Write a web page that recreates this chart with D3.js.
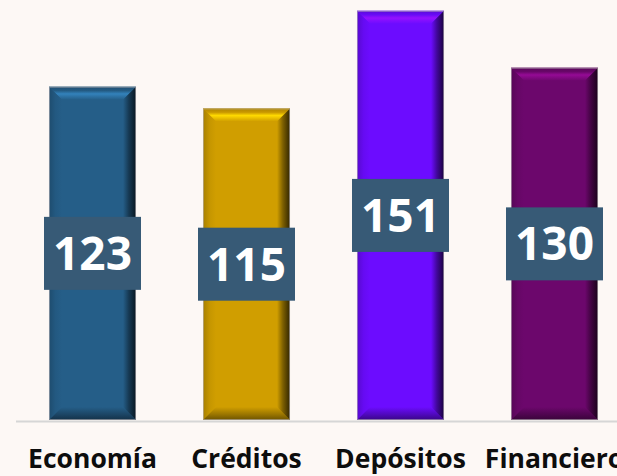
<!DOCTYPE html>
<html>
<head>
<meta charset="utf-8">
<script src="https://cdn.jsdelivr.net/npm/d3@7"></script>
<style>
  html, body { margin: 0; padding: 0; background: #fdf8f5; overflow: hidden; }
  svg { display: block; }
</style>
</head>
<body>
<svg id="chart" width="617" height="476"></svg>
<script>
// Indicator values by sector
const categories = ["Economía", "Créditos", "Depósitos", "Financiero"];
const values = [123, 115, 151, 130];
const barColors = ["#255e88", "#d09e00", "#6c0cff", "#6c076c"];

const width = 617, height = 476;
const baseY = 420;

const svg = d3.select("#chart");

const x = d3.scaleBand()
  .domain(categories)
  .range([15.5, 631.5])
  .paddingInner(0.435)
  .paddingOuter(0.2175);

const y = d3.scaleLinear()
  .domain([0, 155])
  .range([baseY, 0]);

const defs = svg.append("defs");

// Axis with the category names below the baseline
const axis = svg.append("g")
  .attr("transform", `translate(0,${baseY + 1})`)
  .call(d3.axisBottom(x).tickSizeInner(0).tickSizeOuter(0).tickPadding(28));
axis.select(".domain").attr("stroke", "#d6d6d6").attr("stroke-width", 2);
axis.selectAll("text")
  .attr("fill", "#0d0d0d")
  .style("font-family", "'Open Sans', sans-serif")
  .style("font-weight", "700")
  .style("font-size", "26.5px");

// Gradient helper
function grad(id, x1, y1, x2, y2, stops) {
  const g = defs.append("linearGradient").attr("id", id)
    .attr("x1", x1).attr("y1", y1).attr("x2", x2).attr("y2", y2);
  stops.forEach(([o, c]) => g.append("stop").attr("offset", o).attr("stop-color", c));
}

const b = 13; // bevel depth

const bars = svg.append("g").selectAll("g")
  .data(categories.map((c, i) => ({ c, v: values[i], col: barColors[i], i })))
  .join("g");

bars.each(function(d) {
  const g = d3.select(this);
  const base = d3.color(d.col);
  const x0 = x(d.c), x1 = x(d.c) + x.bandwidth();
  const y0 = y(d.v), y1 = y(0);

  grad(`top${d.i}`, 0, 0, 0, 1, [
    [0, base.darker(0.5)], [0.3, base.darker(0.1)], [0.55, base.brighter(0.9)], [1, base]
  ]);
  grad(`right${d.i}`, 0, 0, 1, 0, [
    [0, base], [0.45, base.darker(1.4)], [1, base.darker(4)]
  ]);
  grad(`bottom${d.i}`, 0, 0, 0, 1, [
    [0, base], [0.6, base.darker(0.9)], [1, base.darker(1.8)]
  ]);
  grad(`left${d.i}`, 0, 0, 1, 0, [
    [0, base.darker(0.6)], [0.5, base.darker(0.15)], [1, base]
  ]);

  g.append("rect")
    .attr("x", x0).attr("y", y0)
    .attr("width", x1 - x0).attr("height", y1 - y0)
    .attr("fill", base);

  const poly = (pts, fill) => g.append("polygon")
    .attr("points", pts.map(p => p.join(",")).join(" "))
    .attr("fill", fill);

  poly([[x0, y0], [x1, y0], [x1 - b, y0 + b], [x0 + b, y0 + b]], `url(#top${d.i})`);
  poly([[x0, y0], [x0 + b, y0 + b], [x0 + b, y1 - b], [x0, y1]], `url(#left${d.i})`);
  poly([[x0, y1], [x1, y1], [x1 - b, y1 - b], [x0 + b, y1 - b]], `url(#bottom${d.i})`);
  poly([[x1, y0], [x1, y1], [x1 - b, y1 - b], [x1 - b, y0 + b]], `url(#right${d.i})`);

  g.append("rect")
    .attr("x", x0 + 0.5).attr("y", y0 + 0.5)
    .attr("width", x1 - x0 - 1).attr("height", y1 - y0 - 1)
    .attr("fill", "none")
    .attr("stroke", "#b9b4b8")
    .attr("stroke-opacity", 0.6)
    .attr("stroke-width", 1);
});

// Value labels in boxes at the middle of each bar
const boxW = 97, boxH = 73;
const labels = svg.append("g").selectAll("g")
  .data(categories.map((c, i) => ({ c, v: values[i] })))
  .join("g")
  .attr("transform", d => `translate(${x(d.c) + x.bandwidth() / 2},${(y(d.v) + y(0)) / 2})`);

labels.append("rect")
  .attr("x", -boxW / 2).attr("y", -boxH / 2)
  .attr("width", boxW).attr("height", boxH)
  .attr("fill", "#375a76");

labels.append("text")
  .attr("text-anchor", "middle")
  .attr("dy", "0.36em")
  .attr("fill", "#ffffff")
  .style("font-family", "'Open Sans', sans-serif")
  .style("font-weight", "700")
  .style("font-size", "46px")
  .text(d => d.v);
</script>
</body>
</html>
